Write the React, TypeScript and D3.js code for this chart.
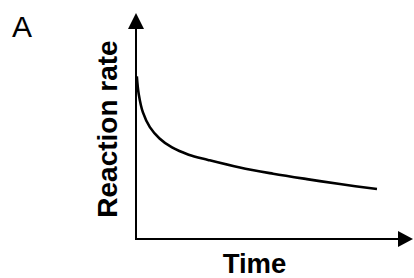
import React from "react";
import * as d3 from "d3";

const time = [0.3, 1.0, 2.5, 5.0, 8.5, 13, 19, 26, 37.5, 49.5, 61.7, 73.6, 87];
const rate = [72, 64, 56, 49.5, 44.5, 40.5, 37.3, 35.0, 31.6, 28.9, 26.5, 24.3, 22.1];
const xLabel = "Time";
const yLabel = "Reaction rate";
const panelLabel = "A";

const W = 414;
const H = 278;

export default function App() {
  const x = d3.scaleLinear().domain([0, 100]).range([136, 413]);
  const y = d3.scaleLinear().domain([0, 100]).range([239, 13]);
  const pts: [number, number][] = time.map((t, i) => [t, rate[i]]);
  const line = d3
    .line<[number, number]>()
    .x((d) => x(d[0]))
    .y((d) => y(d[1]))
    .curve(d3.curveCatmullRom.alpha(0.5));
  const x0 = x(0);
  const y0 = y(0);
  const xEnd = x(100);
  const yTop = y(100);
  const font = "'Liberation Sans', Arial, sans-serif";
  return (
    <svg
      width={W}
      height={H}
      style={{ position: "fixed", left: 0, top: 0, background: "#fff" }}
    >
      <rect width={W} height={H} fill="#fff" />
      <text x={12} y={37} fontFamily={font} fontSize={30} fill="#000">
        {panelLabel}
      </text>
      {/* y axis */}
      <line x1={x0} y1={y0 + 1} x2={x0} y2={yTop + 14} stroke="#000" strokeWidth={2} />
      <path
        d={`M${x0},${yTop} L${x0 - 8},${yTop + 16} L${x0 + 8},${yTop + 16} Z`}
        fill="#000"
      />
      {/* x axis */}
      <line x1={x0 - 1} y1={y0} x2={xEnd - 14} y2={y0} stroke="#000" strokeWidth={2} />
      <path
        d={`M${xEnd},${y0} L${xEnd - 15},${y0 - 8} L${xEnd - 15},${y0 + 8} Z`}
        fill="#000"
      />
      <path d={line(pts) || ""} fill="none" stroke="#000" strokeWidth={2.6} />
      <text
        x={(x0 + xEnd) / 2 - 20}
        y={272.5}
        textAnchor="middle"
        fontFamily={font}
        fontWeight="bold"
        fontSize={27.5}
        fill="#000"
      >
        {xLabel}
      </text>
      <text
        transform={`translate(117,129) rotate(-90)`}
        textAnchor="middle"
        fontFamily={font}
        fontWeight="bold"
        fontSize={28}
        fill="#000"
      >
        {yLabel}
      </text>
    </svg>
  );
}
